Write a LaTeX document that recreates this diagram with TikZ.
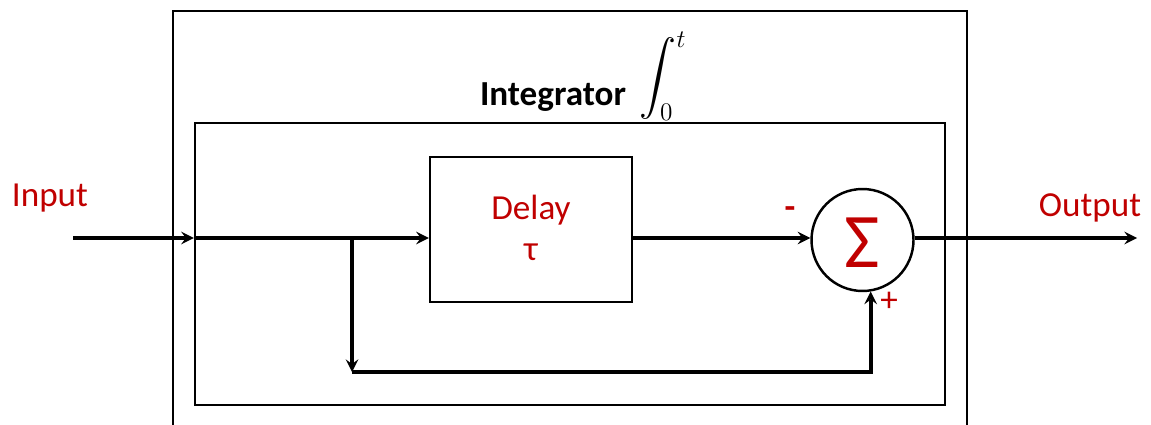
\documentclass[tikz,border=0pt]{standalone}
\usepackage{amsmath, amssymb}
\usepackage{fontspec}
\setmainfont{Carlito}
\usepackage{tikz}
\usetikzlibrary{positioning}
\usepackage{xcolor}
\definecolor{sigred}{RGB}{192,0,0}

\tikzset{
  frame/.style={draw, line width=1.4pt},
  block/.style={draw, line width=1.4pt, minimum width=4.04cm, minimum height=2.9cm},
  sumnode/.style={draw, circle, line width=1.4pt, minimum size=2.04cm, inner sep=0pt},
  sig/.style={->, line width=2.1pt},
  lbl/.style={text=sigred, font=\fontsize{20}{24}\selectfont}
}

\begin{document}
\begin{tikzpicture}[x=0.02cm,y=-0.02cm,>=stealth]
      \useasboundingbox (0,0) rectangle (1151,425);
      % outer box, open at the bottom
      \draw[frame] (173,430) -- (173,11) -- (967,11) -- (967,430);
      \node[frame, minimum width=15cm, minimum height=5.64cm] (integ) at (570,264) {};
      \node[font=\bfseries\fontsize{20}{24}\selectfont] (itxt) at (553,97) {Integrator};
      \node[font=\fontsize{21}{24}\selectfont] (intsign) at (663,76) {$\displaystyle\int_0^t$};
      \node[block] (delay) at (531,229.5) {};
      \node[lbl] (dtxt) at (531,210) {Delay};
      \node[lbl] (tau) at (531,252) {τ};
      \node[sumnode] (sum) at (862.5,240) {};
      \node[text=sigred, font=\fontsize{44}{46}\selectfont] (sigma) at (862.5,243) {Σ};
      % signals
      \coordinate (in) at (73,238);
      \coordinate (out) at (1137,238);
      \coordinate (split) at (352,238);
      \coordinate (fb) at (352,372);
      \node[lbl] (intxt) at (50,198) {Input};
      \node[lbl] (outtxt) at (1090,208) {Output};
      \node[lbl, font=\bfseries\fontsize{20}{24}\selectfont] (minus) at (790,213) {-};
      \node[lbl] (plus) at (889,302) {+};
      \draw[sig] (in) -- (in -| integ.west);
      \draw[sig] (in -| integ.west) -- (split -| delay.west);
      \draw[sig] (delay.east |- split) -- (split -| sum.west);
      \draw[sig] (split -| sum.east) -- (out);
      \draw[sig] (split) -- (fb);
      \draw[sig] (fb) -- (fb -| sum.-81) -- (sum.-81);
    \end{tikzpicture}
\end{document}
